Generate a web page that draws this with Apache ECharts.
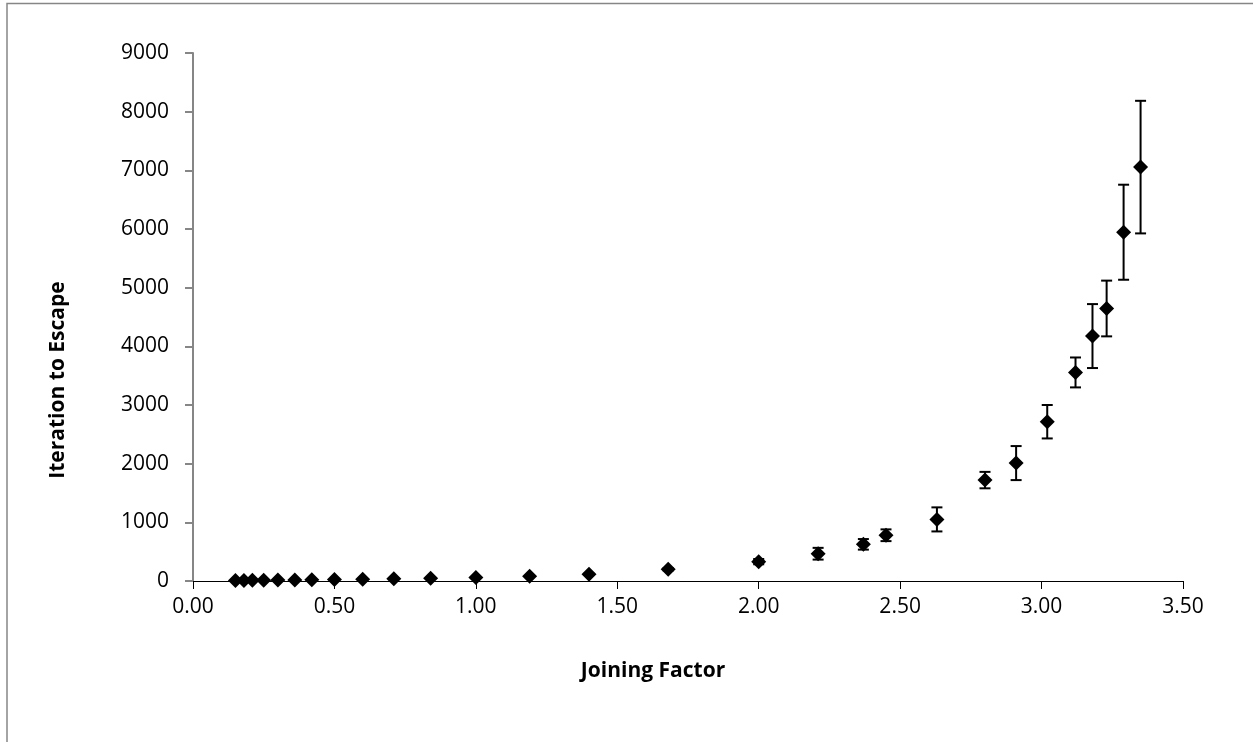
<!DOCTYPE html>
<html>
<head>
<meta charset="utf-8">
<script src="https://cdn.jsdelivr.net/npm/echarts@6/dist/echarts.min.js"></script>
<style>
html,body{margin:0;padding:0;background:#fff;}
#chart{width:1253px;height:742px;}
</style>
</head>
<body>
<div id="chart"></div>
<script>
// Joining factor (x values)
const joiningFactor = [0.15,0.18,0.21,0.25,0.30,0.36,0.42,0.50,0.60,0.71,0.84,1.00,1.19,1.40,1.68,2.00,2.21,2.37,2.45,2.63,2.80,2.91,3.02,3.12,3.18,3.23,3.29,3.35];
// Iteration to escape (mean values)
const iterations = [8,9,11,13,15,18,21,25,30,37,45,60,80,115,200,330,465,625,780,1050,1720,2010,2715,3555,4175,4645,5945,7055];
// Error (± half-length of error bars)
const errors = [0,0,0,0,0,0,0,1,1,2,3,4,6,10,20,45,100,90,100,205,140,290,285,255,545,475,810,1130];
// Tick settings
const xTicks = {min:0, max:3.5, interval:0.5};
const yTicks = {min:0, max:9000, interval:1000};
const xName = 'Joining Factor';
const yName = 'Iteration to Escape';

const points = joiningFactor.map((x,i)=>[x, iterations[i]]);
const errData = joiningFactor.map((x,i)=>[x, iterations[i], errors[i]]);

const FONT = '"Open Sans", sans-serif';
const chart = echarts.init(document.getElementById('chart'), null, {renderer:'canvas'});
chart.setOption({
  backgroundColor:'#ffffff',
  animation:false,
  grid:{left:193, right:70, top:53, bottom:161, containLabel:false},
  graphic:[{
    type:'rect', z:-10, silent:true,
    shape:{x:7, y:3.5, width:1400, height:900},
    style:{fill:'none', stroke:'#868686', lineWidth:1.5}
  }],
  xAxis:{
    type:'value', min:xTicks.min, max:xTicks.max, interval:xTicks.interval,
    name:xName, nameLocation:'middle', nameGap:80,
    nameTextStyle:{fontFamily:FONT, fontSize:21, fontWeight:'bold', color:'#000', padding:[0,70,0,0]},
    axisLine:{show:true, onZero:false, lineStyle:{color:'#000', width:1}},
    axisTick:{show:true, inside:false, length:8, lineStyle:{color:'#000', width:1}},
    axisLabel:{fontFamily:FONT, fontSize:21, color:'#000', margin:16,
      formatter:v=>v.toFixed(2)},
    splitLine:{show:false}
  },
  yAxis:{
    type:'value', min:yTicks.min, max:yTicks.max, interval:yTicks.interval,
    name:yName, nameLocation:'middle', nameGap:124, nameRotate:90,
    nameTextStyle:{fontFamily:FONT, fontSize:21, fontWeight:'bold', color:'#000', padding:[0,126,0,0]},
    axisLine:{show:true, lineStyle:{color:'#868686', width:2}},
    axisTick:{show:true, inside:false, length:8, lineStyle:{color:'#868686', width:2}},
    axisLabel:{fontFamily:FONT, fontSize:21, color:'#000', margin:24,
      formatter:v=>String(v)},
    splitLine:{show:false}
  },
  series:[
    {
      type:'custom', z:2,
      data:errData,
      renderItem:function(params, api){
        const x = api.value(0), y = api.value(1), e = api.value(2);
        if (!e) return null;
        const top = api.coord([x, y+e]);
        const bot = api.coord([x, y-e]);
        const hw = 5.5;
        const st = {stroke:'#000', lineWidth:2};
        return {type:'group', children:[
          {type:'line', shape:{x1:top[0], y1:top[1], x2:bot[0], y2:bot[1]}, style:st},
          {type:'line', shape:{x1:top[0]-hw, y1:top[1], x2:top[0]+hw, y2:top[1]}, style:st},
          {type:'line', shape:{x1:bot[0]-hw, y1:bot[1], x2:bot[0]+hw, y2:bot[1]}, style:st}
        ]};
      }
    },
    {
      type:'scatter', z:3,
      data:points,
      symbol:'diamond', symbolSize:[15,15],
      itemStyle:{color:'#000', opacity:1}
    }
  ]
});
</script>
</body>
</html>
